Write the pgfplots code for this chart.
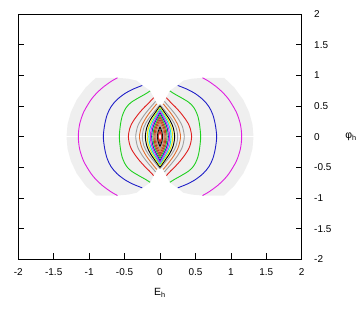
\documentclass[border=0pt]{standalone}
\usepackage{pgfplots}
\pgfplotsset{compat=1.18}
\usepackage{fontspec}
\setmainfont{Liberation Sans}
\definecolor{cgrey}{HTML}{EFEFEF}
\definecolor{cred}{HTML}{E02020}
\definecolor{cgreen}{HTML}{20D020}
\definecolor{cblue}{HTML}{2020C8}
\definecolor{cmag}{HTML}{E020E0}
\definecolor{ccyan}{HTML}{00E0E0}
\definecolor{cyel}{HTML}{E8E800}
\definecolor{cgray}{HTML}{A0A0A0}
\definecolor{corange}{HTML}{E07030}
\definecolor{cbrown}{HTML}{A05030}
\begin{document}
\begin{tikzpicture}
\begin{axis}[
  scale only axis, width=283.4bp, height=245.3bp,
  xmin=-2, xmax=2, ymin=-2, ymax=2,
  xtick={-2,-1.5,...,2}, ytick={-2,-1.5,...,2},
  xtick pos=bottom, ytick pos=both, yticklabel pos=right,
  tick align=inside, major tick length=6bp,
  tick style={black, line width=0.6bp},
  axis line style={line width=0.8bp},
  /pgf/number format/assume math mode=true,
  ticklabel style={font=\fontsize{10}{12}\selectfont},
  xticklabel style={yshift=-6bp},
  yticklabel style={anchor=west, xshift=9bp},
  xlabel={E\textsubscript{h}}, ylabel={φ\textsubscript{h}},
  label style={font=\fontsize{10.5}{12}\selectfont},
  xlabel style={at={(axis description cs:0.5,-0.137)}, anchor=center},
  ylabel style={at={(axis description cs:1.142,0.5)}, anchor=west, rotate=-90},
  every axis plot/.append style={line width=0.9bp},
  clip=false,
]
% grey domain
\addplot[draw=none, fill=cgrey] coordinates {
 (-0.906,0.96) (-0.6,0.96) (-0.45,0.945) (-0.33,0.915) (-0.25,0.84) (-0.14,0.75) (-0.09,0.64) (-0.06,0.58) (-0.035,0.535) (0,0.49)
 (0.035,0.535) (0.06,0.58) (0.09,0.64) (0.14,0.75) (0.25,0.84) (0.33,0.915) (0.45,0.945) (0.6,0.96) (0.906,0.96)
 (1.05,0.8) (1.176,0.6) (1.258,0.4) (1.305,0.2) (1.32,0) (1.305,-0.2) (1.258,-0.4) (1.176,-0.6) (1.05,-0.8) (0.906,-0.96)
 (0.6,-0.96) (0.45,-0.945) (0.33,-0.915) (0.25,-0.84) (0.14,-0.75) (0.09,-0.64) (0.06,-0.58) (0.035,-0.535) (0,-0.49)
 (-0.035,-0.535) (-0.06,-0.58) (-0.09,-0.64) (-0.14,-0.75) (-0.25,-0.84) (-0.33,-0.915) (-0.45,-0.945) (-0.6,-0.96) (-0.906,-0.96)
 (-1.05,-0.8) (-1.176,-0.6) (-1.258,-0.4) (-1.305,-0.2) (-1.32,0) (-1.305,0.2) (-1.258,0.4) (-1.176,0.6) (-1.05,0.8) (-0.906,0.96)
} -- cycle;
\addplot[white, line width=0.5bp] coordinates {(-1.32,0) (1.32,0)};
% outer open curves
\addplot[cmag, smooth] coordinates {(-0.6,0.96)(-0.691,0.9)(-0.81,0.8)(-0.902,0.7)(-0.975,0.6)(-1.0775,0.4)(-1.1346,0.2)(-1.153,0)(-1.1346,-0.2)(-1.0775,-0.4)(-0.975,-0.6)(-0.902,-0.7)(-0.81,-0.8)(-0.691,-0.9)(-0.6,-0.96)};
\addplot[cmag, smooth] coordinates {(0.6,0.96)(0.691,0.9)(0.81,0.8)(0.902,0.7)(0.975,0.6)(1.0775,0.4)(1.1346,0.2)(1.153,0)(1.1346,-0.2)(1.0775,-0.4)(0.975,-0.6)(0.902,-0.7)(0.81,-0.8)(0.691,-0.9)(0.6,-0.96)};
\addplot[cblue, smooth] coordinates {(-0.25,0.835)(-0.38,0.775)(-0.5,0.70)(-0.61,0.60)(-0.69,0.49)(-0.745,0.36)(-0.78,0.2)(-0.80,0)(-0.78,-0.2)(-0.745,-0.36)(-0.69,-0.49)(-0.61,-0.60)(-0.5,-0.70)(-0.38,-0.775)(-0.25,-0.835)};
\addplot[cblue, smooth] coordinates {(0.25,0.835)(0.38,0.775)(0.5,0.70)(0.61,0.60)(0.69,0.49)(0.745,0.36)(0.78,0.2)(0.80,0)(0.78,-0.2)(0.745,-0.36)(0.69,-0.49)(0.61,-0.60)(0.5,-0.70)(0.38,-0.775)(0.25,-0.835)};
\addplot[cgreen, smooth] coordinates {(-0.14,0.745)(-0.2,0.70)(-0.3,0.635)(-0.40,0.565)(-0.46,0.50)(-0.50,0.43)(-0.535,0.33)(-0.558,0.2)(-0.574,0)(-0.558,-0.2)(-0.535,-0.33)(-0.50,-0.43)(-0.46,-0.50)(-0.40,-0.565)(-0.3,-0.635)(-0.2,-0.70)(-0.14,-0.745)};
\addplot[cgreen, smooth] coordinates {(0.14,0.745)(0.2,0.70)(0.3,0.635)(0.40,0.565)(0.46,0.50)(0.50,0.43)(0.535,0.33)(0.558,0.2)(0.574,0)(0.558,-0.2)(0.535,-0.33)(0.50,-0.43)(0.46,-0.50)(0.40,-0.565)(0.3,-0.635)(0.2,-0.70)(0.14,-0.745)};
\addplot[cred, smooth] coordinates {(-0.09,0.635)(-0.15,0.56)(-0.22,0.48)(-0.29,0.39)(-0.35,0.30)(-0.40,0.21)(-0.43,0.12)(-0.447,0)(-0.43,-0.12)(-0.40,-0.21)(-0.35,-0.30)(-0.29,-0.39)(-0.22,-0.48)(-0.15,-0.56)(-0.09,-0.635)};
\addplot[cred, smooth] coordinates {(0.09,0.635)(0.15,0.56)(0.22,0.48)(0.29,0.39)(0.35,0.30)(0.40,0.21)(0.43,0.12)(0.447,0)(0.43,-0.12)(0.40,-0.21)(0.35,-0.30)(0.29,-0.39)(0.22,-0.48)(0.15,-0.56)(0.09,-0.635)};
\addplot[cgray, smooth] coordinates {(-0.062,0.575)(-0.11,0.51)(-0.17,0.43)(-0.23,0.34)(-0.28,0.25)(-0.318,0.16)(-0.343,0)(-0.318,-0.16)(-0.28,-0.25)(-0.23,-0.34)(-0.17,-0.43)(-0.11,-0.51)(-0.062,-0.575)};
\addplot[cgray, smooth] coordinates {(0.062,0.575)(0.11,0.51)(0.17,0.43)(0.23,0.34)(0.28,0.25)(0.318,0.16)(0.343,0)(0.318,-0.16)(0.28,-0.25)(0.23,-0.34)(0.17,-0.43)(0.11,-0.51)(0.062,-0.575)};
\addplot[corange, smooth] coordinates {(-0.045,0.535)(-0.085,0.48)(-0.14,0.40)(-0.19,0.32)(-0.235,0.23)(-0.265,0.15)(-0.29,0)(-0.265,-0.15)(-0.235,-0.23)(-0.19,-0.32)(-0.14,-0.40)(-0.085,-0.48)(-0.045,-0.535)};
\addplot[corange, smooth] coordinates {(0.045,0.535)(0.085,0.48)(0.14,0.40)(0.19,0.32)(0.235,0.23)(0.265,0.15)(0.29,0)(0.265,-0.15)(0.235,-0.23)(0.19,-0.32)(0.14,-0.40)(0.085,-0.48)(0.045,-0.535)};
% closed lenses
\addplot[cgray, smooth] coordinates {(0,0.52)(-0.075,0.416)(-0.165,0.286)(-0.225,0.156)(-0.25,0)(-0.225,-0.156)(-0.165,-0.286)(-0.075,-0.416)(0,-0.52)};
\addplot[cgray, smooth] coordinates {(0,0.52)(0.075,0.416)(0.165,0.286)(0.225,0.156)(0.25,0)(0.225,-0.156)(0.165,-0.286)(0.075,-0.416)(0,-0.52)};
\addplot[black, smooth] coordinates {(0,0.50)(-0.062,0.40)(-0.137,0.275)(-0.186,0.15)(-0.207,0)(-0.186,-0.15)(-0.137,-0.275)(-0.062,-0.40)(0,-0.50)};
\addplot[black, smooth] coordinates {(0,0.50)(0.062,0.40)(0.137,0.275)(0.186,0.15)(0.207,0)(0.186,-0.15)(0.137,-0.275)(0.062,-0.40)(0,-0.50)};
\addplot[cyel, smooth] coordinates {(0,0.475)(-0.054,0.38)(-0.119,0.261)(-0.162,0.143)(-0.18,0)(-0.162,-0.143)(-0.119,-0.261)(-0.054,-0.38)(0,-0.475)};
\addplot[cyel, smooth] coordinates {(0,0.475)(0.054,0.38)(0.119,0.261)(0.162,0.143)(0.18,0)(0.162,-0.143)(0.119,-0.261)(0.054,-0.38)(0,-0.475)};
\addplot[ccyan, smooth] coordinates {(0,0.45)(-0.047,0.36)(-0.104,0.248)(-0.141,0.135)(-0.157,0)(-0.141,-0.135)(-0.104,-0.248)(-0.047,-0.36)(0,-0.45)};
\addplot[ccyan, smooth] coordinates {(0,0.45)(0.047,0.36)(0.104,0.248)(0.141,0.135)(0.157,0)(0.141,-0.135)(0.104,-0.248)(0.047,-0.36)(0,-0.45)};
\addplot[cmag, smooth] coordinates {(0,0.42)(-0.041,0.336)(-0.090,0.231)(-0.123,0.126)(-0.137,0)(-0.123,-0.126)(-0.090,-0.231)(-0.041,-0.336)(0,-0.42)};
\addplot[cmag, smooth] coordinates {(0,0.42)(0.041,0.336)(0.090,0.231)(0.123,0.126)(0.137,0)(0.123,-0.126)(0.090,-0.231)(0.041,-0.336)(0,-0.42)};
\addplot[cblue, smooth] coordinates {(0,0.39)(-0.035,0.312)(-0.078,0.215)(-0.106,0.117)(-0.118,0)(-0.106,-0.117)(-0.078,-0.215)(-0.035,-0.312)(0,-0.39)};
\addplot[cblue, smooth] coordinates {(0,0.39)(0.035,0.312)(0.078,0.215)(0.106,0.117)(0.118,0)(0.106,-0.117)(0.078,-0.215)(0.035,-0.312)(0,-0.39)};
\addplot[cgreen, smooth] coordinates {(0,0.355)(-0.03,0.284)(-0.066,0.195)(-0.09,0.107)(-0.10,0)(-0.09,-0.107)(-0.066,-0.195)(-0.03,-0.284)(0,-0.355)};
\addplot[cgreen, smooth] coordinates {(0,0.355)(0.03,0.284)(0.066,0.195)(0.09,0.107)(0.10,0)(0.09,-0.107)(0.066,-0.195)(0.03,-0.284)(0,-0.355)};
\addplot[cred, smooth] coordinates {(0,0.32)(-0.026,0.256)(-0.056,0.176)(-0.077,0.096)(-0.085,0)(-0.077,-0.096)(-0.056,-0.176)(-0.026,-0.256)(0,-0.32)};
\addplot[cred, smooth] coordinates {(0,0.32)(0.026,0.256)(0.056,0.176)(0.077,0.096)(0.085,0)(0.077,-0.096)(0.056,-0.176)(0.026,-0.256)(0,-0.32)};
\addplot[cbrown, smooth] coordinates {(0,0.28)(-0.021,0.224)(-0.047,0.154)(-0.064,0.084)(-0.071,0)(-0.064,-0.084)(-0.047,-0.154)(-0.021,-0.224)(0,-0.28)};
\addplot[cbrown, smooth] coordinates {(0,0.28)(0.021,0.224)(0.047,0.154)(0.064,0.084)(0.071,0)(0.064,-0.084)(0.047,-0.154)(0.021,-0.224)(0,-0.28)};
\addplot[corange, smooth] coordinates {(0,0.24)(-0.017,0.192)(-0.038,0.132)(-0.052,0.072)(-0.058,0)(-0.052,-0.072)(-0.038,-0.132)(-0.017,-0.192)(0,-0.24)};
\addplot[corange, smooth] coordinates {(0,0.24)(0.017,0.192)(0.038,0.132)(0.052,0.072)(0.058,0)(0.052,-0.072)(0.038,-0.132)(0.017,-0.192)(0,-0.24)};
\addplot[cgray, smooth] coordinates {(0,0.20)(-0.014,0.16)(-0.030,0.11)(-0.041,0.06)(-0.046,0)(-0.041,-0.06)(-0.030,-0.11)(-0.014,-0.16)(0,-0.20)};
\addplot[cgray, smooth] coordinates {(0,0.20)(0.014,0.16)(0.030,0.11)(0.041,0.06)(0.046,0)(0.041,-0.06)(0.030,-0.11)(0.014,-0.16)(0,-0.20)};
\addplot[black, smooth] coordinates {(0,0.16)(-0.011,0.128)(-0.023,0.088)(-0.032,0.048)(-0.035,0)(-0.032,-0.048)(-0.023,-0.088)(-0.011,-0.128)(0,-0.16)};
\addplot[black, smooth] coordinates {(0,0.16)(0.011,0.128)(0.023,0.088)(0.032,0.048)(0.035,0)(0.032,-0.048)(0.023,-0.088)(0.011,-0.128)(0,-0.16)};
\addplot[cbrown, smooth] coordinates {(0,0.12)(-0.008,0.096)(-0.017,0.066)(-0.023,0.036)(-0.026,0)(-0.023,-0.036)(-0.017,-0.066)(-0.008,-0.096)(0,-0.12)};
\addplot[cbrown, smooth] coordinates {(0,0.12)(0.008,0.096)(0.017,0.066)(0.023,0.036)(0.026,0)(0.023,-0.036)(0.017,-0.066)(0.008,-0.096)(0,-0.12)};
\addplot[cred, smooth] coordinates {(0,0.085)(-0.006,0.068)(-0.012,0.047)(-0.016,0.026)(-0.018,0)(-0.016,-0.026)(-0.012,-0.047)(-0.006,-0.068)(0,-0.085)};
\addplot[cred, smooth] coordinates {(0,0.085)(0.006,0.068)(0.012,0.047)(0.016,0.026)(0.018,0)(0.016,-0.026)(0.012,-0.047)(0.006,-0.068)(0,-0.085)};
\addplot[draw=none, fill=white] coordinates {(0,0.035)(-0.009,0.018)(-0.011,0)(-0.009,-0.018)(0,-0.035)(0.009,-0.018)(0.011,0)(0.009,0.018)} -- cycle;
\end{axis}
\path[use as bounding box] ([shift={(-18.3bp,-52.7bp)}]current axis.south west) rectangle ([shift={(61.3bp,14bp)}]current axis.north east);
\end{tikzpicture}
\end{document}
